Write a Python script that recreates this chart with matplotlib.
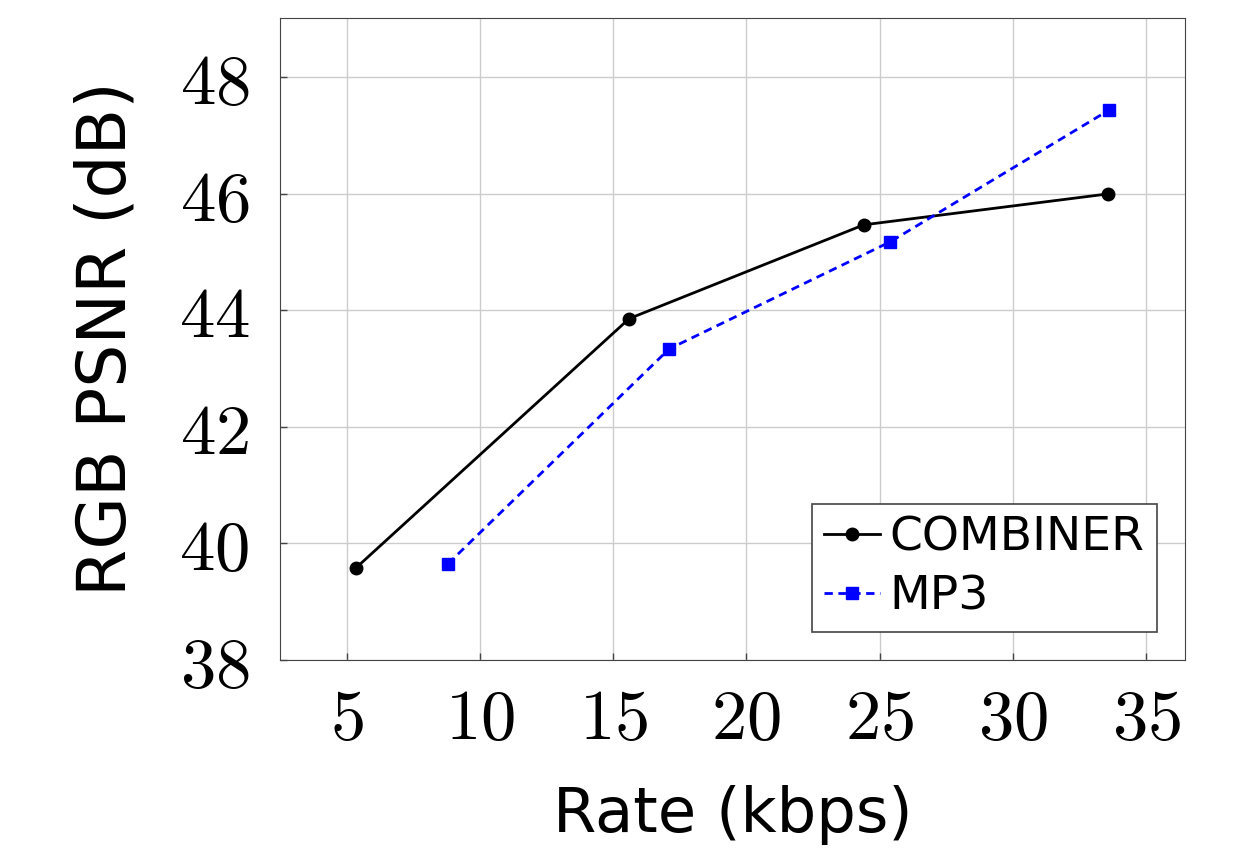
import numpy as np
import matplotlib.pyplot as plt

plt.rcParams['mathtext.fontset'] = 'cm'

comb_rate = [5.35, 15.6, 24.4, 33.55]
comb_psnr = [39.58, 43.86, 45.47, 46.0]
mp3_rate = [8.8, 17.1, 25.4, 33.6]
mp3_psnr = [39.65, 43.34, 45.18, 47.44]

xticks = [5, 10, 15, 20, 25, 30, 35]
yticks = [38, 40, 42, 44, 46, 48]

fig = plt.figure(figsize=(12.59, 8.67), dpi=100)
ax = fig.add_axes([0.2224, 0.2388, 0.7188, 0.7404])

ax.plot(comb_rate, comb_psnr, color="black", lw=2, marker="o", ms=9, label="COMBINER", zorder=3)
ax.plot(mp3_rate, mp3_psnr, color="blue", lw=2, ls=(0, (3, 2)), marker="s", ms=9, label="MP3", zorder=3)

ax.set_xlim(2.5, 36.45)
ax.set_ylim(38, 49.02)
ax.set_xticks(xticks)
ax.set_yticks(yticks)
ax.set_xticklabels([r"$%d$" % t for t in xticks], fontsize=51)
ax.set_yticklabels([r"$%d$" % t for t in yticks], fontsize=51)
ax.tick_params(direction="in", length=5, width=1, color="#444444")
ax.tick_params(axis="x", pad=18)
ax.tick_params(axis="y", pad=22)
ax.grid(True, color="#cccccc", lw=1)
ax.set_axisbelow(True)
for s in ax.spines.values():
    s.set_color("#444444")

ax.set_xlabel("Rate (kbps)", fontsize=45, labelpad=22)
ax.set_ylabel("RGB PSNR (dB)", fontsize=49, labelpad=28)

leg = ax.legend(loc="lower right", fontsize=34, handlelength=1.2, handletextpad=0.2,
                fancybox=False, edgecolor="#444444", framealpha=1, borderaxespad=0.6,
                labelspacing=0.3, borderpad=0.25)
leg.get_frame().set_linewidth(1.2)

fig.savefig("out.png", dpi=100)
